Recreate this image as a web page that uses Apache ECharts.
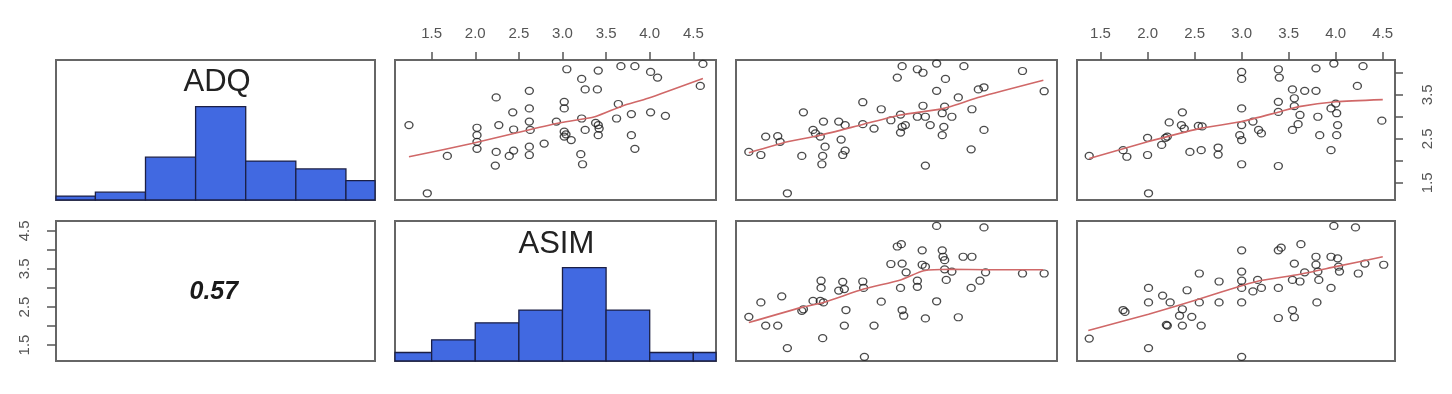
<!DOCTYPE html>
<html><head><meta charset="utf-8">
<script src="https://cdn.jsdelivr.net/npm/echarts@6/dist/echarts.min.js"></script>
<style>html,body{margin:0;padding:0;background:#fff}#c{width:1452px;height:394px}</style>
</head><body><div id="c"></div>
<script>
// ---------- data ----------
const varNames = ['ADQ', 'ASIM'];
const corrText = '0.57';
const tickValues = [1.5, 2.0, 2.5, 3.0, 3.5, 4.0, 4.5];
const rightTickValues = [1.5, 2.0, 2.5, 3.0, 3.5, 4.0];
const rightLabelValues = [1.5, 2.5, 3.5];
const leftLabelValues = [1.5, 2.5, 3.5, 4.5];

const adqBreaks = [1.0, 1.5, 2.0, 2.5, 3.0, 3.5, 4.0, 4.5];
const adqCounts = [1, 2, 11, 24, 10, 8, 5];
const asimBreaks = [1.0, 1.5, 2.0, 2.5, 3.0, 3.5, 4.0, 4.5, 5.0];
const asimCounts = [2, 5, 9, 12, 22, 12, 2, 2];

// row 1: y = ADQ
const p12 = [[1.24,2.81],[1.45,1.26],[1.68,2.11],[2.02,2.75],[2.02,2.58],[2.02,2.43],[2.02,2.27],[2.24,3.44],[2.27,2.81],[2.43,3.10],[2.44,2.71],[2.24,2.20],[2.23,1.89],[2.39,2.11],[2.44,2.23],[2.62,3.59],[2.62,3.19],[2.62,2.89],[2.63,2.70],[2.62,2.32],[2.62,2.13],[2.79,2.39],[2.93,2.89],[3.02,3.34],[3.02,3.19],[3.02,2.66],[3.02,2.55],[3.10,2.47],[3.05,4.08],[3.22,3.86],[3.26,3.62],[3.40,3.62],[3.41,4.05],[3.22,2.96],[3.26,2.70],[3.21,2.15],[3.23,1.92],[3.41,2.81],[3.41,2.58],[3.42,2.73],[3.62,2.96],[3.64,3.29],[3.67,4.15],[3.83,4.15],[3.79,3.06],[3.79,2.58],[3.83,2.27],[4.01,4.02],[4.09,3.89],[4.01,3.10],[4.18,3.02],[4.58,3.70],[4.61,4.20],[3.04,2.60],[3.38,2.86]];
const l12 = [[1.24,2.09],[1.96,2.39],[2.61,2.70],[2.99,2.87],[3.37,3.00],[3.68,3.24],[3.98,3.42],[4.61,3.87]];

const p13 = [[1.16,2.20],[1.31,2.13],[1.37,2.55],[1.52,2.56],[1.55,2.43],[1.64,1.26],[1.82,2.11],[1.84,3.10],[1.96,2.70],[2.05,2.55],[2.09,2.89],[2.11,2.32],[2.08,2.11],[2.07,1.92],[2.28,2.89],[2.36,2.81],[2.31,2.48],[2.36,2.23],[2.33,2.13],[2.58,3.33],[2.58,2.83],[2.72,2.73],[2.81,3.17],[2.93,2.92],[3.01,3.89],[3.07,4.15],[3.05,3.05],[3.07,2.77],[3.11,2.81],[3.05,2.64],[3.26,4.08],[3.33,4.00],[3.26,3.00],[3.33,3.25],[3.36,3.00],[3.42,2.81],[3.36,1.89],[3.50,4.21],[3.50,3.59],[3.61,3.86],[3.60,3.23],[3.57,3.08],[3.69,3.00],[3.59,2.77],[3.57,2.58],[3.77,3.44],[3.84,4.15],[3.94,3.17],[3.93,2.26],[4.02,3.62],[4.09,3.67],[4.09,2.70],[4.57,4.04],[4.84,3.58],[1.99,2.62]];
const l13 = [[1.16,2.18],[1.64,2.43],[2.05,2.58],[2.59,2.83],[3.05,3.04],[3.59,3.19],[4.04,3.45],[4.83,3.83]];

const p14 = [[1.38,2.11],[1.74,2.24],[1.78,2.09],[2.00,2.52],[2.00,2.13],[2.01,1.26],[2.15,2.36],[2.21,2.55],[2.23,2.87],[2.37,3.10],[2.36,2.81],[2.39,2.73],[2.54,2.79],[2.45,2.20],[2.57,2.24],[2.75,2.30],[2.75,2.14],[3.00,4.02],[3.00,3.86],[3.00,3.19],[3.00,2.81],[2.98,2.58],[3.00,2.47],[3.00,1.92],[3.12,2.89],[3.18,2.70],[3.21,2.62],[3.39,4.08],[3.40,3.89],[3.39,3.34],[3.39,3.11],[3.39,1.88],[3.54,3.62],[3.56,3.42],[3.56,3.24],[3.67,3.59],[3.62,3.04],[3.60,2.83],[3.54,2.70],[3.79,4.10],[3.79,3.59],[3.81,3.00],[3.83,2.58],[3.95,2.24],[3.98,4.21],[3.95,3.19],[4.00,3.30],[4.01,3.08],[4.02,2.81],[4.01,2.58],[4.23,3.70],[4.29,4.15],[4.49,2.91],[2.19,2.52],[2.58,2.78]];
const l14 = [[1.38,2.05],[2.00,2.43],[2.55,2.73],[3.00,2.89],[3.40,3.11],[3.61,3.23],[4.00,3.34],[4.50,3.39]];

// row 2: y = ASIM
const p23 = [[1.16,2.24],[1.31,2.62],[1.37,2.01],[1.52,2.01],[1.57,2.78],[1.64,1.42],[1.82,2.40],[1.96,2.66],[2.06,3.19],[2.06,3.00],[2.09,2.62],[2.08,1.68],[2.28,2.93],[2.33,3.16],[2.35,2.97],[2.37,2.42],[2.35,2.01],[2.58,3.17],[2.59,3.00],[2.60,1.19],[2.72,2.01],[2.81,2.64],[2.93,3.63],[3.01,4.09],[3.06,4.15],[3.07,3.64],[3.12,3.41],[3.05,3.00],[3.07,2.42],[3.09,2.27],[3.26,3.19],[3.26,3.03],[3.32,3.99],[3.32,3.61],[3.36,3.56],[3.36,2.20],[3.50,4.63],[3.50,2.65],[3.57,3.99],[3.58,3.82],[3.60,3.73],[3.60,3.49],[3.69,3.43],[3.62,3.21],[3.77,2.23],[3.83,3.82],[3.94,3.82],[3.93,3.00],[4.04,3.19],[4.09,4.59],[4.11,3.41],[4.57,3.38],[4.84,3.38],[1.84,2.44],[2.05,2.66]];
const l23 = [[1.16,2.09],[1.82,2.49],[2.09,2.62],[2.59,2.97],[3.05,3.21],[3.34,3.45],[3.67,3.49],[4.13,3.48],[4.83,3.48]];

const p24 = [[1.38,1.67],[1.74,2.42],[1.76,2.37],[2.01,3.00],[2.01,2.62],[2.01,1.42],[2.16,2.80],[2.21,2.01],[2.24,2.62],[2.34,2.27],[2.37,2.01],[2.37,2.44],[2.42,2.94],[2.47,2.24],[2.55,3.38],[2.55,2.62],[2.57,2.01],[2.76,3.17],[2.76,2.62],[3.00,3.99],[3.00,3.43],[3.00,3.19],[3.00,3.00],[3.00,2.62],[3.00,1.19],[3.12,2.91],[3.17,3.21],[3.21,3.00],[3.39,3.99],[3.42,4.06],[3.39,3.00],[3.39,2.21],[3.54,2.42],[3.56,2.23],[3.56,3.64],[3.54,3.21],[3.62,3.17],[3.63,4.15],[3.67,3.41],[3.79,3.82],[3.79,3.61],[3.81,3.43],[3.82,3.21],[3.80,2.62],[3.95,3.82],[3.95,3.00],[3.98,4.63],[4.02,3.78],[4.03,3.56],[4.04,3.43],[4.21,4.59],[4.24,3.38],[4.31,3.64],[4.51,3.61],[2.20,2.03]];
const l24 = [[1.37,1.88],[2.01,2.31],[2.55,2.71],[3.00,3.06],[3.19,3.19],[3.62,3.36],[4.00,3.56],[4.50,3.82]];

// ---------- layout ----------
const colPos = [{left:56,width:319},{left:395,width:321},{left:736,width:321},{left:1077,width:318}];
const rowPos = [{top:60,height:140},{top:221,height:140}];
const colRange = [[1.107,4.29],[1.08,4.76],[1.0,5.0],[1.25,4.63]];
const rowRange = [[1.107,4.29],[1.08,4.76]];

const FONT = '"Liberation Sans", Arial, sans-serif';
const grids = [], xAxes = [], yAxes = [], series = [];
const hidden = {axisLine:{show:false}, axisTick:{show:false}, axisLabel:{show:false}, splitLine:{show:false}};
const fmt = v => v.toFixed(1);

for (let r = 0; r < 2; r++) {
  for (let c = 0; c < 4; c++) {
    const gi = r*4 + c;
    grids.push({left:colPos[c].left, width:colPos[c].width, top:rowPos[r].top, height:rowPos[r].height,
      show:true, borderColor:'#666', borderWidth:2, backgroundColor:'#fff'});
    let xa = Object.assign({gridIndex:gi, type:'value', min:colRange[c][0], max:colRange[c][1]}, JSON.parse(JSON.stringify(hidden)));
    if (r === 0 && (c === 1 || c === 3)) {
      xa.position = 'top';
      xa.axisTick = {show:true, length:8, lineStyle:{color:'#555', width:1.5}, customValues:tickValues};
      xa.axisLabel = {show:true, margin:19, color:'#555', fontSize:15, fontFamily:FONT, formatter:fmt, customValues:tickValues};
    }
    xAxes.push(xa);
    let yr = rowRange[r];
    if (r === c) yr = [0, 1.5];
    let ya = Object.assign({gridIndex:gi, type:'value', min:yr[0], max:yr[1]}, JSON.parse(JSON.stringify(hidden)));
    if (r === 0 && c === 3) {
      ya.position = 'right';
      ya.axisTick = {show:true, length:8, lineStyle:{color:'#555', width:1.5}, customValues:rightTickValues};
      ya.axisLabel = {show:true, margin:25, rotate:90, color:'#555', fontSize:15, fontFamily:FONT, formatter:fmt, customValues:rightLabelValues};
    }
    if (r === 1 && c === 0) {
      ya.position = 'left';
      ya.axisTick = {show:true, length:9, lineStyle:{color:'#555', width:1.5}, customValues:tickValues};
      ya.axisLabel = {show:true, margin:24, rotate:90, color:'#555', fontSize:15, fontFamily:FONT, formatter:fmt, customValues:leftLabelValues};
    }
    yAxes.push(ya);
  }
}

function histData(breaks, counts) {
  const m = Math.max(...counts);
  return counts.map((n, i) => [breaks[i], breaks[i+1], n / m]);
}
function renderHist(params, api) {
  const p0 = api.coord([api.value(0), 0]);
  const p1 = api.coord([api.value(1), api.value(2)]);
  const cs = params.coordSys;
  const rect = echarts.graphic.clipRectByRect(
    {x:p0[0], y:p1[1], width:p1[0]-p0[0], height:p0[1]-p1[1]},
    {x:cs.x, y:cs.y, width:cs.width, height:cs.height});
  if (!rect) return;
  return {type:'rect', shape:rect, style:{fill:'#4169E1', stroke:'#1b1f45', lineWidth:1.3}};
}
series.push({type:'custom', xAxisIndex:0, yAxisIndex:0, renderItem:renderHist, data:histData(adqBreaks, adqCounts), encode:{x:[0,1], y:2}, silent:true});
series.push({type:'custom', xAxisIndex:5, yAxisIndex:5, renderItem:renderHist, data:histData(asimBreaks, asimCounts), encode:{x:[0,1], y:2}, silent:true});

const panels = [[1,p12,l12],[2,p13,l13],[3,p14,l14],[6,p23,l23],[7,p24,l24]];
panels.forEach(([gi, pts, lo]) => {
  series.push({type:'scatter', xAxisIndex:gi, yAxisIndex:gi, data:pts, symbol:'circle', symbolSize:[8,7],
    itemStyle:{color:'rgba(0,0,0,0)', borderColor:'#1e1e1e', borderWidth:1.3}, silent:true, z:3});
  series.push({type:'line', xAxisIndex:gi, yAxisIndex:gi, data:lo, showSymbol:false, smooth:0.2,
    lineStyle:{color:'#d06868', width:1.6}, silent:true, z:4});
});

const chart = echarts.init(document.getElementById('c'), null, {renderer:'canvas'});
chart.setOption({
  animation:false,
  backgroundColor:'#fff',
  grid:grids, xAxis:xAxes, yAxis:yAxes, series:series,
  graphic:[
    {type:'text', left:215.5 - 32, top:67, style:{text:varNames[0], font:'31px ' + FONT, fill:'#222', textAlign:'left'}},
    {type:'text', left:555.5 - 37, top:229, style:{text:varNames[1], font:'31px ' + FONT, fill:'#222'}},
    {type:'text', left:215.5 - 26, top:280, style:{text:corrText, font:'italic bold 25px ' + FONT, fill:'#1a1a1a'}}
  ]
});
</script></body></html>
